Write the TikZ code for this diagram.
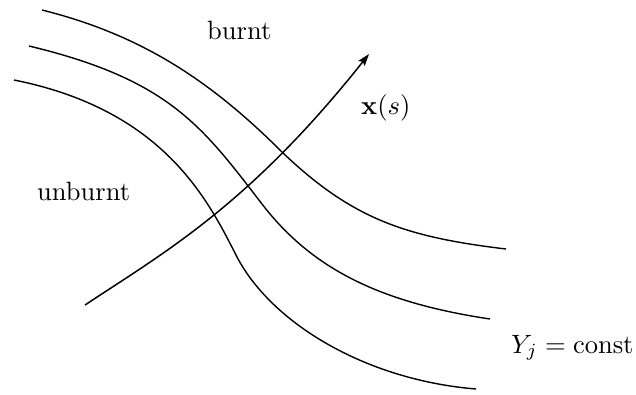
\documentclass[tikz,border=0pt]{standalone}
\usepackage{graphicx}
\usetikzlibrary{arrows.meta}
\newcommand{\lblsize}[1]{\scalebox{2.65}{#1}}
\begin{document}
\begin{tikzpicture}[x=1pt,y=-1pt,
  front/.style={line width=1.4pt, black},
  lbl/.style={inner sep=0pt, font=\fontsize{10}{12}\selectfont},
  flow/.style={line width=1.5pt, -{Stealth[length=12pt,width=8pt,inset=2pt]}}]
\useasboundingbox (0,0) rectangle (636,394);
% iso-lines Y_j = const
\draw[front] (42,10) .. controls (142,35) and (211,81) .. (283,153)
                     .. controls (353,219.5) and (406,237) .. (506,249);
\draw[front] (29,46) .. controls (169,79.6) and (202,126) .. (262,204)
                     .. controls (312,269) and (380,302.5) .. (490,319);
\draw[front] (14,80) .. controls (164,110) and (208,200) .. (237,257)
                     .. controls (272,323.5) and (366,380) .. (476,389);
% trajectory x(s)
\coordinate (s0) at (85,305);
\coordinate (s1) at (369,54);
\draw[flow] (s0) .. controls (165,252) and (249,205) .. (s1);
% labels
\node[lbl, anchor=base west] (burnt) at (207,39) {\lblsize{burnt}};
\node[lbl, anchor=base west] (unburnt) at (37,200) {\lblsize{unburnt}};
\node[lbl, anchor=base west] (xs) at (361,114) {\lblsize{$\mathbf{x}(s)$}};
\node[lbl, anchor=base west] (yj) at (511,353) {\lblsize{$Y_j = \mathrm{const}$}};
\end{tikzpicture}
\end{document}
